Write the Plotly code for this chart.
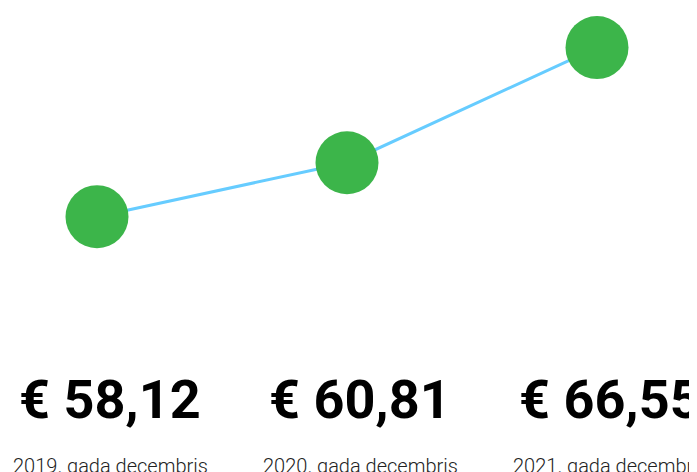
import plotly.graph_objects as go

positions = [0, 1, 2]
values = [58.12, 60.81, 66.55]
value_labels = ["€ 58,12", "€ 60,81", "€ 66,55"]
period_labels = ["2019. gada decembris", "2020. gada decembris", "2021. gada decembris"]

# the page adds an 8px body margin, so the figure is drawn 8px smaller
OFF = 8
W, H = 697 - OFF, 472 - OFF

def py(page_y):
    return 1 - (page_y - OFF) / H

fig = go.Figure()
fig.add_trace(go.Scatter(
    x=positions, y=values, mode="lines+markers",
    line=dict(color="#66ccff", width=3),
    marker=dict(color="#3cb54a", size=63, line=dict(width=0)),
    cliponaxis=False, hoverinfo="skip",
))

big_font = dict(family="Liberation Sans Narrow, Roboto, Arial, sans-serif", size=54, color="#000000", weight=700)
small_font = dict(family="Liberation Sans Narrow, Roboto, Arial, sans-serif", size=20, color="#222222", weight=300)

annotations = []
for p, vl, pl in zip(positions, value_labels, period_labels):
    annotations.append(dict(
        x=p, y=py(399), xref="x", yref="paper", xshift=13,
        text=vl, showarrow=False, xanchor="center", yanchor="middle",
        font=big_font,
    ))
    annotations.append(dict(
        x=p, y=py(466), xref="x", yref="paper", xshift=13,
        text=pl, showarrow=False, xanchor="center", yanchor="middle",
        font=small_font,
    ))

fig.update_layout(
    width=W, height=H,
    margin=dict(l=0, r=0, t=0, b=0),
    paper_bgcolor="white", plot_bgcolor="white",
    showlegend=False,
    xaxis=dict(range=[-0.356, 2.4], visible=False, fixedrange=True),
    yaxis=dict(range=[45.40, 68.52], visible=False, fixedrange=True),
    annotations=annotations,
)

fig.write_html("out.html", config={"displayModeBar": False})
